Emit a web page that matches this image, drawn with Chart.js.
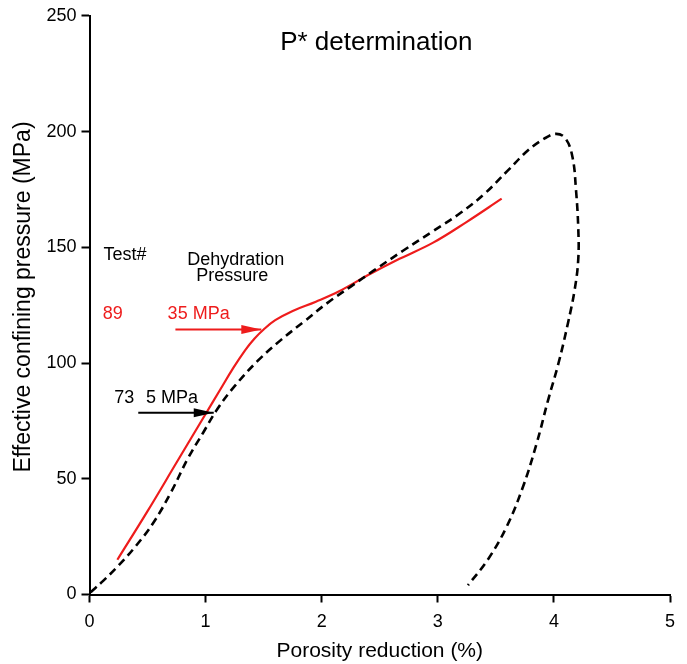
<!DOCTYPE html>
<html>
<head>
<meta charset="utf-8">
<script src="https://cdn.jsdelivr.net/npm/chart.js@4.4.1/dist/chart.umd.min.js"></script>
<style>
  html, body { margin: 0; padding: 0; background: #fff; }
  #wrap { width: 687px; height: 664px; }
</style>
</head>
<body>
<div id="wrap"><canvas id="myChart"></canvas></div>
<script>
// dashed black curve (loading + unloading path)
const dashedX = [0.01, 0.12, 0.25, 0.40, 0.55, 0.70, 0.85, 0.98, 1.10, 1.25, 1.45, 1.65, 1.85, 2.05, 2.25, 2.45, 2.70, 2.96, 3.20, 3.40, 3.60, 3.78, 3.92, 4.02, 4.10, 4.16, 4.19, 4.21, 4.21, 4.18, 4.12, 4.04, 3.95, 3.85, 3.73, 3.59, 3.43, 3.26];
const dashedY = [1, 6, 12.5, 21, 31, 44, 59, 70, 80, 90, 101, 110, 118, 126, 133, 140, 148.5, 157, 165, 173, 183, 192, 197, 199, 197, 189, 175, 158, 145, 132, 117, 100, 84, 65, 46, 29, 15, 4];

// red curve (test 89)
const redX = [0.24, 0.50, 0.75, 1.00, 1.12, 1.24, 1.34, 1.42, 1.50, 1.60, 1.75, 1.95, 2.15, 2.40, 2.67, 2.96, 3.25, 3.55];
const redY = [15, 36, 57, 78, 88, 98, 105.5, 110.5, 114.5, 118.5, 122.5, 126.5, 131, 138, 145, 152, 161, 171];

// dehydration pressure arrows
const arrow89X = [0.74, 1.48];
const arrow89Y = [114.5, 114.5];
const arrow73X = [0.42, 1.07];
const arrow73Y = [78.5, 78.5];

const xTicks = [0, 1, 2, 3, 4, 5];
const yTicks = [0, 50, 100, 150, 200, 250];

const FONT = "'Liberation Sans', Arial, Helvetica, sans-serif";
const RED = '#ee1c1c';

const notes = [
    { text: 'P* determination', x: 2.47, y: 238.3, color: '#000', size: 26 },
    { text: 'Test#', x: 0.305, y: 146.8, color: '#000', size: 18 },
    { text: 'Dehydration', x: 1.26, y: 144.6, color: '#000', size: 18 },
    { text: 'Pressure', x: 1.23, y: 137.7, color: '#000', size: 18 },
    { text: '89', x: 0.20, y: 121.3, color: RED, size: 18 },
    { text: '35 MPa', x: 0.94, y: 121.3, color: RED, size: 18 },
    { text: '73', x: 0.30, y: 84.7, color: '#000', size: 18 },
    { text: '5 MPa', x: 0.71, y: 84.7, color: '#000', size: 18 }
];

const pts = (xs, ys) => xs.map((x, i) => ({ x: x, y: ys[i] }));

const notesPlugin = {
    id: 'notes',
    afterDatasetsDraw(chart) {
        const ctx = chart.ctx;
        const xs = chart.scales.x, ys = chart.scales.y;
        // arrow heads at the end of the arrow datasets
        chart.data.datasets.forEach((ds, i) => {
            if (!ds.arrowHead) return;
            const el = chart.getDatasetMeta(i).data;
            const tip = el[el.length - 1];
            ctx.save();
            ctx.fillStyle = ds.borderColor;
            ctx.beginPath();
            ctx.moveTo(tip.x, tip.y);
            ctx.lineTo(tip.x - 20, tip.y - 4.5);
            ctx.lineTo(tip.x - 20, tip.y + 4.5);
            ctx.closePath();
            ctx.fill();
            ctx.restore();
        });
        ctx.save();
        ctx.textAlign = 'center';
        ctx.textBaseline = 'middle';
        notes.forEach(n => {
            ctx.font = n.size + 'px ' + FONT;
            ctx.fillStyle = n.color;
            ctx.fillText(n.text, xs.getPixelForValue(n.x), ys.getPixelForValue(n.y));
        });
        // y axis title, set a little above the axis middle as in the original
        ctx.translate(24, 297);
        ctx.rotate(-Math.PI / 2);
        ctx.font = '23px ' + FONT;
        ctx.fillStyle = '#000';
        ctx.fillText('Effective confining pressure (MPa)', 0, 0);
        ctx.restore();
    }
};

const ctx = document.getElementById('myChart').getContext('2d');

new Chart(ctx, {
    type: 'scatter',
    data: {
        datasets: [{
            data: pts(dashedX, dashedY),
            showLine: true,
            borderColor: '#000',
            borderWidth: 2.6,
            borderDash: [8, 5],
            tension: 0.4,
            pointRadius: 0
        }, {
            data: pts(redX, redY),
            showLine: true,
            borderColor: RED,
            borderWidth: 2.2,
            tension: 0.4,
            pointRadius: 0
        }, {
            data: pts(arrow89X, arrow89Y),
            showLine: true,
            borderColor: RED,
            borderWidth: 2,
            pointRadius: 0,
            arrowHead: true
        }, {
            data: pts(arrow73X, arrow73Y),
            showLine: true,
            borderColor: '#000',
            borderWidth: 2,
            pointRadius: 0,
            arrowHead: true
        }]
    },
    options: {
        responsive: true,
        maintainAspectRatio: false,
        animation: false,
        events: [],
        layout: {
            padding: { left: 0, right: 17, top: 15, bottom: 0 }
        },
        plugins: {
            legend: { display: false },
            tooltip: { enabled: false }
        },
        scales: {
            x: {
                type: 'linear',
                min: 0,
                max: 5,
                afterBuildTicks: s => { s.ticks = xTicks.map(v => ({ value: v })); },
                afterFit: s => { s.height = 69.5; },
                ticks: { color: '#000', font: { family: FONT, size: 18 }, padding: 9 },
                grid: { drawOnChartArea: false, tickLength: 8, tickColor: '#000', tickWidth: 2 },
                border: { color: '#000', width: 2 },
                title: {
                    display: true,
                    text: 'Porosity reduction (%)',
                    color: '#000',
                    font: { family: FONT, size: 21 },
                    padding: { top: 0, bottom: 0 }
                }
            },
            y: {
                min: 0,
                max: 250,
                afterBuildTicks: s => { s.ticks = yTicks.map(v => ({ value: v })); },
                afterFit: s => { s.width = 89.5; },
                ticks: { color: '#000', font: { family: FONT, size: 18 }, padding: 5 },
                grid: { drawOnChartArea: false, tickLength: 8, tickColor: '#000', tickWidth: 2 },
                border: { color: '#000', width: 2 },
                title: { display: false }
            }
        }
    },
    plugins: [notesPlugin]
});
</script>
</body>
</html>
